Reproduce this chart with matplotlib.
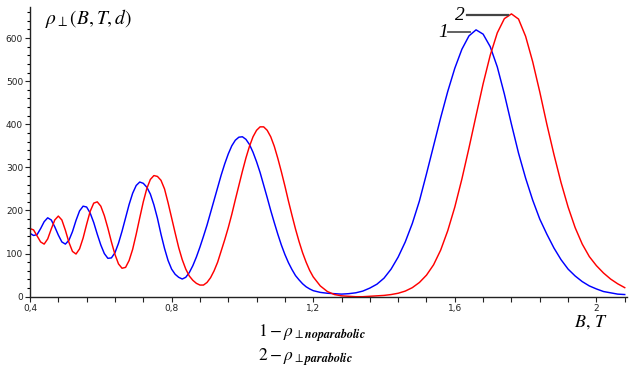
import numpy as np
import matplotlib
matplotlib.use("Agg")
import matplotlib.pyplot as plt
from matplotlib.ticker import MultipleLocator, FixedLocator

plt.rcParams['mathtext.fontset'] = 'stix'

# sample positions (B, T)
B_fine = np.round(np.arange(0.40, 1.2001, 0.01), 2)
B_coarse = np.round(np.arange(1.22, 2.0801, 0.02), 2)
B = np.concatenate([B_fine, B_coarse])

# curve 1 (noparabolic, blue)
rho_noparabolic = [
    147, 142, 144, 158, 174, 183, 178, 162, 143, 127,
    122, 131, 151, 177, 199, 210, 208, 194, 172, 145,
    120, 100, 89, 90, 102, 124, 152, 183, 214, 240,
    258, 266, 263, 254, 238, 213, 182, 145, 112, 84,
    64, 52, 45, 41, 45, 56, 72, 92, 115, 140,
    166, 195, 224, 253, 282, 308, 331, 350, 363, 370,
    371, 365, 353, 335, 313, 288, 259, 230, 200, 172,
    145, 120, 98, 79, 63, 49, 39, 30, 23, 18,
    14,
    10, 8, 7, 6, 7, 9, 13, 20, 29, 43,
    64, 92, 127, 170, 222, 285, 350, 415, 476, 530,
    574, 605, 619, 609, 580, 533, 470, 400, 333, 275,
    224, 180, 145, 113, 86, 64, 48, 35, 25, 18,
    12, 9, 6, 5,
]

# curve 2 (parabolic, red)
rho_parabolic = [
    158, 155, 141, 127, 122, 134, 157, 178, 187, 178,
    154, 126, 105, 99, 111, 136, 168, 198, 217, 220,
    210, 188, 159, 127, 98, 76, 66, 68, 84, 110,
    145, 183, 220, 251, 272, 281, 279, 270, 250, 218,
    183, 148, 114, 86, 64, 48, 38, 31, 27, 27,
    33, 44, 60, 80, 106, 132, 160, 191, 225, 258,
    291, 322, 349, 371, 386, 394, 394, 386, 371, 349,
    321, 290, 257, 222, 189, 157, 128, 102, 80, 61,
    46,
    25, 12, 5, 2, 1, 0, 0, 1, 2, 3,
    5, 8, 13, 21, 33, 50, 74, 108, 153, 208,
    273, 345, 420, 494, 560, 612, 645, 656, 644, 604,
    545, 475, 400, 330, 265, 208, 160, 122, 93, 72,
    55, 41, 30, 21,
]

x_ticks = [0.4, 0.8, 1.2, 1.6, 2.0]
x_ticklabels = ["0,4", "0,8", "1,2", "1,6", "2"]
y_ticks = [0, 100, 200, 300, 400, 500, 600]

W, H = 629, 369
fig = plt.figure(figsize=(W / 100, H / 100), dpi=100)
ax = fig.add_axes([30 / W, (H - 296.7) / H, 597 / W, (296.7 - 7) / H])

ax.plot(B, rho_noparabolic, color="#0000ff", lw=1.05, solid_joinstyle="round")
ax.plot(B, rho_parabolic, color="#ff0000", lw=1.05, solid_joinstyle="round")

ax.set_xlim(0.4, 2.0864)
ax.set_ylim(0, 672)

for s in ["top", "right"]:
    ax.spines[s].set_visible(False)
for s in ["left", "bottom"]:
    ax.spines[s].set_linewidth(1.0)
    ax.spines[s].set_color("#222222")

ax.xaxis.set_major_locator(FixedLocator(x_ticks))
ax.set_xticklabels(x_ticklabels)
ax.xaxis.set_minor_locator(MultipleLocator(0.08))
ax.yaxis.set_major_locator(FixedLocator(y_ticks))
ax.yaxis.set_minor_locator(MultipleLocator(20))

ax.tick_params(axis="x", which="both", direction="out", length=3.5, width=0.8,
               labelsize=6.5, pad=2, colors="#222222")
ax.tick_params(axis="y", which="major", direction="out", length=3.5, width=0.8,
               labelsize=6.5, pad=1.5, colors="#222222")
ax.tick_params(axis="y", which="minor", direction="out", length=2.5, width=0.8)

# axis titles
fig.text(45 / W, 1 - 19 / H, r"$\rho_{\perp}(B,T,d)$", fontsize=14,
         ha="left", va="center")
fig.text(574 / W, 1 - 322 / H, r"$B,\,T$", fontsize=13,
         ha="left", va="center")

# legend text
fig.text(258 / W, 1 - 333 / H, r"$1-\rho_{\perp\boldsymbol{noparabolic}}$",
         fontsize=12.5, ha="left", va="center")
fig.text(258 / W, 1 - 357 / H, r"$2-\rho_{\perp\boldsymbol{parabolic}}$",
         fontsize=12.5, ha="left", va="center")

# curve labels
ax.plot([1.581, 1.643], [614, 614], color="#555555", lw=1.3, clip_on=False)
ax.text(1.566, 612, "1", fontsize=14, ha="center", va="center",
        family="Liberation Serif", style="italic")
ax.plot([1.634, 1.751], [654, 654], color="#444444", lw=1.6, clip_on=False)
ax.text(1.615, 652, "2", fontsize=14, ha="center", va="center",
        family="Liberation Serif", style="italic")

fig.savefig("out.png", dpi=100)
